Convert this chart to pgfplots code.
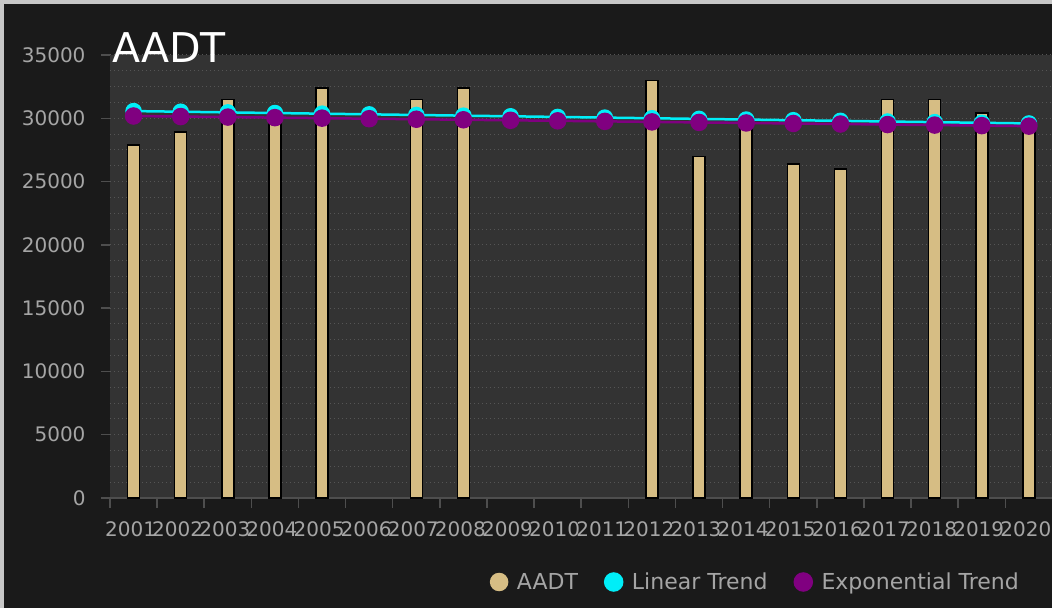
\documentclass[border=0pt]{standalone}
\usepackage{fontspec}
\setmainfont{DejaVu Sans}
\usepackage{pgfplots}
\pgfplotsset{compat=1.18}
\definecolor{bgdark}{RGB}{26,26,26}
\definecolor{plotbg}{RGB}{51,51,51}
\definecolor{gridc}{RGB}{85,85,85}
\definecolor{tickc}{RGB}{78,78,78}
\definecolor{labc}{RGB}{165,165,165}
\definecolor{tanM}{RGB}{214,189,132}
\definecolor{trendcyan}{RGB}{0,238,248}
\definecolor{trendpurple}{RGB}{128,0,128}
\definecolor{framec}{RGB}{200,200,200}

\begin{document}
\begin{tikzpicture}[x=1pt,y=1pt]
\useasboundingbox (0,0) rectangle (1052,608);
\fill[framec] (0,0) rectangle (1052,608);
\fill[bgdark] (4,0) rectangle (1052,604);
\begin{axis}[
  at={(110pt,110pt)}, anchor=south west,
  scale only axis, width=942.5pt, height=443pt,
  xmin=2000.5, xmax=2020.5, ymin=0, ymax=35000,
  axis background/.style={fill=plotbg},
  axis x line*=bottom, axis y line*=left,
  x axis line style={-, draw=tickc, line width=1.5pt},
  y axis line style={draw=none},
  tick align=outside,
  scaled y ticks=false,
  xtick={2001,2002,...,2020},
  minor xtick={2000.5,2001.5,...,2020.5},
  ytick={0,5000,...,35000},
  minor y tick num=3,
  ymajorgrids, yminorgrids,
  major grid style={draw=gridc, line width=1pt, dash pattern=on 1.2pt off 2.8pt},
  minor grid style={draw=gridc, line width=1pt, dash pattern=on 1.2pt off 2.8pt},
  major tick length=9pt, minor tick length=10pt,
  major x tick style={draw=none},
  minor x tick style={draw=tickc, line width=1.5pt},
  major y tick style={draw=tickc, line width=1.5pt},
  minor y tick style={draw=none},
  /pgf/number format/1000 sep={},
  /pgf/number format/assume math mode=true,
  tick label style={font=\fontsize{20}{20}\selectfont, text=labc},
  xticklabel style={xshift=-3pt, yshift=-11pt},
  yticklabel style={xshift=-12pt},
  legend style={at={(axis description cs:0.9698,-0.1896)}, anchor=east,
    draw=none, fill=none, text=labc, font=\fontsize{22}{22}\selectfont,
    /tikz/every even column/.append style={column sep=24pt}},
  legend columns=3,
]
\addplot[ybar, bar width=12pt, fill=tanM, draw=black, line width=1.5pt,
  legend image code/.code={\fill[tanM] (0pt,0pt) circle (8.5pt); \path (-8.5pt,0pt) (15pt,0pt);}]
coordinates {
(2001,27900) (2002,28900) (2003,31500) (2004,30200) (2005,32400)
(2007,31500) (2008,32400) (2012,33000) (2013,27000) (2014,29900)
(2015,26400) (2016,26000) (2017,31500) (2018,31500) (2019,30400) (2020,29400)
};
\addlegendentry{AADT}
\addplot[trendcyan, line width=2.5pt, mark=*, mark size=7pt, mark options={fill=trendcyan, draw=none},
  legend image code/.code={\fill[trendcyan] (0pt,0pt) circle (8.5pt); \path (-8.5pt,0pt) (15pt,0pt);}]
coordinates {
(2001,30570) (2002,30518) (2003,30467) (2004,30415) (2005,30364)
(2006,30312) (2007,30261) (2008,30209) (2009,30158) (2010,30106)
(2011,30055) (2012,30003) (2013,29952) (2014,29900) (2015,29849)
(2016,29797) (2017,29746) (2018,29694) (2019,29643) (2020,29591)
};
\addlegendentry{Linear Trend}
\addplot[trendpurple, line width=2.5pt, mark=*, mark size=7.5pt, mark options={fill=trendpurple, draw=none},
  legend image code/.code={\fill[trendpurple] (0pt,0pt) circle (8.5pt); \path (-8.5pt,0pt) (15pt,0pt);}]
coordinates {
(2001,30180) (2002,30137) (2003,30095) (2004,30052) (2005,30010)
(2006,29967) (2007,29925) (2008,29883) (2009,29841) (2010,29799)
(2011,29757) (2012,29715) (2013,29673) (2014,29631) (2015,29589)
(2016,29547) (2017,29505) (2018,29464) (2019,29422) (2020,29380)
};
\addlegendentry{Exponential Trend}
\end{axis}
\node[anchor=base west, text=white, font=\fontsize{41}{41}\selectfont, inner sep=0pt] at (112,545) {AADT};
\end{tikzpicture}
\end{document}
